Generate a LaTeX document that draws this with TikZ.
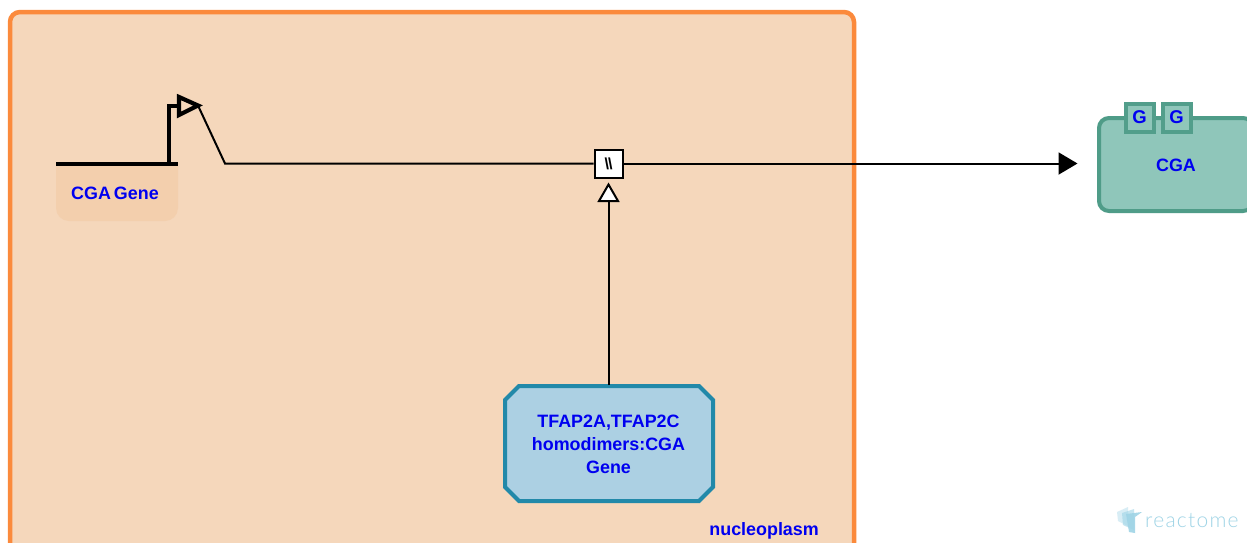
\documentclass[tikz,border=0pt]{standalone}
\usepackage{fontspec}
\setmainfont[WordSpace=0.6]{Liberation Sans}
\newfontfamily\logofont[LetterSpace=6]{Lato Light}
\usetikzlibrary{arrows.meta,calc}
\definecolor{compfill}{HTML}{F5D7BB}
\definecolor{compline}{HTML}{FB8A3C}
\definecolor{genefill}{HTML}{F3CFAD}
\definecolor{cxfill}{HTML}{ACD0E3}
\definecolor{cxline}{HTML}{2289A9}
\definecolor{protfill}{HTML}{8FC6BA}
\definecolor{protline}{HTML}{4F9C88}
\definecolor{grpline}{HTML}{529E8B}
\definecolor{labelblue}{HTML}{0000F0}
\definecolor{logotext}{HTML}{9FD4E6}
\tikzset{
  x=1pt,y=-1pt,
  lbl/.style={text=labelblue,font=\fontsize{17.9}{23}\selectfont\bfseries,inner sep=0pt,align=center},
  compartment/.style={draw=compline,fill=compfill,line width=4.5pt,rounded corners=10pt},
  wire/.style={draw=black,line width=2pt},
  genebar/.style={draw=black,line width=4pt},
  procbox/.style={draw=black,fill=white,line width=2pt,minimum size=28pt,inner sep=0pt,font=\fontsize{16}{16}\selectfont\bfseries},
  complexbox/.style={draw=cxline,fill=cxfill,line width=4pt,line join=miter},
  protbox/.style={draw=protline,fill=protfill,line width=4pt,rounded corners=10pt,minimum width=154pt,minimum height=93pt,inner sep=0pt},
  gbox/.style={draw=grpline,fill=protfill,line width=4pt,minimum size=28pt,inner sep=0pt,text=labelblue,font=\fontsize{18.5}{18.5}\selectfont\bfseries},
}
\begin{document}
\begin{tikzpicture}
\useasboundingbox (0,0) rectangle (1247,542);
\clip (0,0) rectangle (1247,542);
\fill[white] (0,0) rectangle (1247,542);
% compartment
\path[compartment] (10,12) rectangle (854,570);
\node[lbl,anchor=east] (nucl) at (819,530.5) {nucleoplasm};
% gene
\fill[genefill,rounded corners=13pt] (56,150) rectangle (178,221);
\fill[compfill] (50,140) rectangle (185,163);
\node[lbl] (genelabel) at (115,193.5) {CGA Gene};
\coordinate (barL) at (56,163.5);
\coordinate (barR) at (178,163.5);
\coordinate (stemB) at (169,163.5);
\coordinate (stemT) at (169,106);
\coordinate (flagL) at (178,106);
\coordinate (flagT) at (198,105.5);
\path[genebar] (barL) -- (barR);
\draw[genebar,line cap=butt] (stemB) -- (stemT) -- (flagL);
\draw[line width=4.2pt,miter limit=10,fill=compfill] (179,97) -- (flagT) -- (179,115) -- cycle;
% process + connectors
\node[procbox] (proc) at (608.5,163.5) {\textbackslash\kern-1pt\textbackslash};
\coordinate (bend) at (225,163.5);
\path[wire] (flagT) -- (bend) -- (proc.west);
% target
\node[protbox] (cga) at (1176,164.5) {};
\node[lbl] (cgalabel) at (1176,165) {CGA};
\node[gbox] (g1) at (1139.5,117.5) {G};
\node[gbox] (g2) at (1176.5,117.5) {G};
\draw[wire,-{Triangle[length=19pt,width=22pt]},shorten >=19.5pt] (proc.east) -- (proc.east -| cga.west);
% complex
\path[complexbox] (519,386) -- (699,386) -- (713,400) -- (713,487) -- (699,501) -- (519,501) -- (505,487) -- (505,400) -- cycle;
\coordinate (cxtop) at (608.5,385);
\node[lbl] (cxlabel) at (608.5,444.5) {TFAP2A,TFAP2C\hspace{9pt}\\homodimers:CGA\\Gene};
\coordinate (cattip) at (608.5,184.5);
\draw[wire] (cxtop) -- (608.5,201);
\draw[line width=2pt,fill=white,miter limit=10] (cattip) -- (618,201) -- (599,201) -- cycle;
% logo
\fill[logotext,opacity=.4] (1117,512) -- (1128,507) -- (1128,526) -- (1118,521) -- cycle;
\fill[logotext,opacity=.6] (1122,513) -- (1134,509) -- (1134,530) -- (1123,525) -- cycle;
\fill[logotext,opacity=.9] (1126,514) -- (1142,512) -- (1135,517) -- (1135,533) -- (1129,532) -- cycle;
\node[inner sep=0pt,anchor=west,text=logotext,font=\logofont\fontsize{21}{21}\selectfont] (logo) at (1145,521) {reactome};
\end{tikzpicture}
\end{document}
